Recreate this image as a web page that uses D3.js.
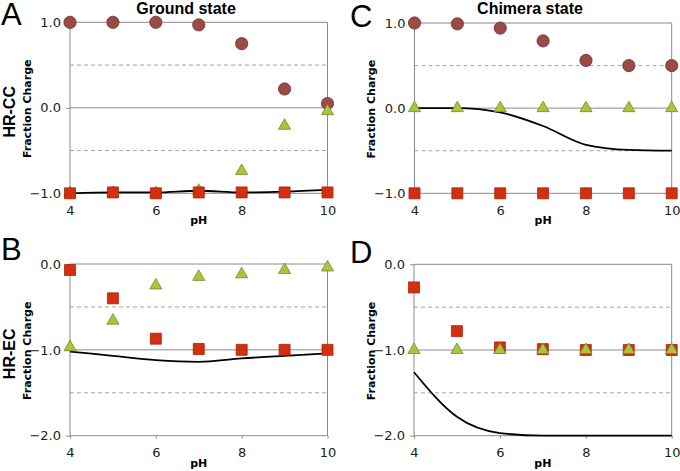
<!DOCTYPE html>
<html>
<head>
<meta charset="utf-8">
<script src="https://cdn.jsdelivr.net/npm/d3@7"></script>
<style>
  body { margin: 0; background: #fff; }
  svg { display: block; }
  .tick text { font-family: "DejaVu Sans", Verdana, sans-serif; font-size: 13px; fill: #222; }
</style>
</head>
<body>
<div id="chart"></div>
<script>
// Chart data
var pH = [4, 5, 6, 7, 8, 9, 10];

// A - HR-CC ground state
var aCircles   = [1.0, 1.0, 1.0, 0.97, 0.75, 0.22, 0.05];
var aTriangles = [-1.0, -1.0, -1.0, -0.97, -0.74, -0.21, -0.04];
var aSquares   = [-1.0, -0.99, -1.0, -0.99, -0.99, -0.99, -0.99];
var aLine      = [-1.0, -0.99, -0.99, -0.97, -0.99, -0.98, -0.96];

// B - HR-EC ground state
var bTriangles = [-0.97, -0.66, -0.25, -0.15, -0.12, -0.07, -0.04];
var bSquares   = [-0.07, -0.40, -0.87, -0.99, -1.0, -1.0, -1.0];
var bLine      = [-1.02, -1.07, -1.12, -1.14, -1.10, -1.07, -1.04];

// C - HR-CC chimera state
var cCircles   = [1.0, 0.99, 0.94, 0.79, 0.56, 0.50, 0.50];
var cTriangles = [0, 0, 0, 0, 0, 0, 0];
var cSquares   = [-1, -1, -1, -1, -1, -1, -1];
var cLine      = [0, 0, -0.05, -0.21, -0.43, -0.49, -0.50];

// D - HR-EC chimera state
var dTriangles = [-1, -1, -1, -1, -1, -1, -1];
var dSquares   = [-0.27, -0.78, -0.97, -0.99, -1.0, -1.0, -1.0];
var dLine      = [-1.26, -1.78, -1.97, -2.0, -2.0, -2.0, -2.0];

var xTicks = [4, 6, 8, 10];
var yTicksTop = [1, 0, -1];
var yTicksBottom = [0, -1, -2];
var dashTop = [0.5, -0.5];
var dashBottom = [-0.5, -1.5];

var svgWidth = 680;
var svgHeight = 471;

var svg = d3.select("#chart")
  .append("svg")
  .attr("width", svgWidth)
  .attr("height", svgHeight);

var colors = {
  circle: { fill: "#9b4a47", stroke: "#6b2f2c" },
  square: { fill: "#d42f10", stroke: "#a8230c" },
  triangle: { fill: "#a9c53c", stroke: "#76882a" }
};

// panel setup (order = drawing order of marker series)
var panels = [
  { letter: "A", lx: 1, ly: 25, left: 70, right: 327.5, top: 22.3, bottom: 193.3,
    domain: [-1, 1], yTicks: yTicksTop, dashes: dashTop, row: "HR-CC",
    series: [["circle", aCircles], ["triangle", aTriangles], ["square", aSquares]], line: aLine },
  { letter: "B", lx: 1, ly: 260, left: 70, right: 327.5, top: 264, bottom: 435.7,
    domain: [-2, 0], yTicks: yTicksBottom, dashes: dashBottom, row: "HR-EC",
    series: [["triangle", bTriangles], ["square", bSquares]], line: bLine },
  { letter: "C", lx: 350, ly: 27, left: 414.5, right: 671.7, top: 23, bottom: 193.3,
    domain: [-1, 1], yTicks: yTicksTop, dashes: dashTop,
    series: [["circle", cCircles], ["triangle", cTriangles], ["square", cSquares]], line: cLine },
  { letter: "D", lx: 350, ly: 263, left: 414, right: 671.7, top: 264.3, bottom: 435.7,
    domain: [-2, 0], yTicks: yTicksBottom, dashes: dashBottom,
    series: [["square", dSquares], ["triangle", dTriangles]], line: dLine }
];

var symbolType = { circle: d3.symbolCircle, square: d3.symbolSquare, triangle: d3.symbolTriangle };
var symbolSize = { circle: 118, square: 121, triangle: 64 };

panels.forEach(function(p) {
  var x = d3.scaleLinear().domain([4, 10]).range([p.left, p.right]);
  var y = d3.scaleLinear().domain(p.domain).range([p.bottom, p.top]);
  var g = svg.append("g");

  // dashed half gridlines
  g.selectAll(".dash")
    .data(p.dashes)
    .enter()
    .append("line")
    .attr("x1", p.left).attr("x2", p.right)
    .attr("y1", d => y(d)).attr("y2", d => y(d))
    .attr("stroke", "#a6a6a6")
    .attr("stroke-dasharray", "4,3")
    .attr("stroke-width", 1);

  // solid gridlines
  g.selectAll(".grid")
    .data(p.yTicks)
    .enter()
    .append("line")
    .attr("x1", p.left).attr("x2", p.right)
    .attr("y1", d => y(d)).attr("y2", d => y(d))
    .attr("stroke", "#8a8a8a")
    .attr("stroke-width", 1);

  // left / right frame
  g.selectAll(".frame")
    .data([4, 10])
    .enter()
    .append("line")
    .attr("x1", d => x(d)).attr("x2", d => x(d))
    .attr("y1", p.top).attr("y2", p.bottom)
    .attr("stroke", "#8a8a8a")
    .attr("stroke-width", 1);

  // axes
  var leftAxis = d3.axisLeft(y).tickValues(p.yTicks).tickFormat(d3.format(".1f")).tickSize(4).tickPadding(5);
  g.append("g")
    .attr("transform", `translate(${p.left}, 0)`)
    .call(leftAxis)
    .call(a => a.select(".domain").remove())
    .call(a => a.selectAll(".tick line").attr("stroke", "#8a8a8a"));

  var bottomAxis = d3.axisBottom(x).tickValues(xTicks).tickFormat(d3.format("d")).tickSize(3).tickPadding(9);
  g.append("g")
    .attr("transform", `translate(0, ${p.bottom})`)
    .call(bottomAxis)
    .call(a => a.select(".domain").remove())
    .call(a => a.selectAll(".tick line").attr("stroke", "#8a8a8a"));

  // black curve
  var line = d3.line()
    .x((d, i) => x(pH[i]))
    .y(d => y(d))
    .curve(d3.curveMonotoneX);

  g.append("path")
    .datum(p.line)
    .attr("d", line)
    .attr("fill", "none")
    .attr("stroke", "#000")
    .attr("stroke-width", 1.8);

  // marker series
  p.series.forEach(function(s) {
    var kind = s[0];
    g.selectAll(".m-" + kind)
      .data(s[1])
      .enter()
      .append("path")
      .attr("d", d3.symbol().type(symbolType[kind]).size(symbolSize[kind]))
      .attr("transform", (d, i) => `translate(${x(pH[i])}, ${y(d)})`)
      .attr("fill", colors[kind].fill)
      .attr("stroke", colors[kind].stroke)
      .attr("stroke-width", 0.8);
  });

  // axis labels
  g.append("text")
    .attr("x", (p.left + p.right) / 2)
    .attr("y", p.bottom + 31)
    .attr("text-anchor", "middle")
    .style("font-family", "DejaVu Sans, Verdana, sans-serif")
    .style("font-size", "11px")
    .style("font-weight", "bold")
    .text("pH");

  g.append("text")
    .attr("transform", `translate(${p.left - 43}, ${(p.top + p.bottom) / 2 + 1}) rotate(-90)`)
    .attr("text-anchor", "middle")
    .attr("dy", "0.35em")
    .style("font-family", "DejaVu Sans, Verdana, sans-serif")
    .style("font-size", "11px")
    .style("font-weight", "bold")
    .text("Fraction Charge");

  if (p.row) {
    g.append("text")
      .attr("transform", `translate(9.5, ${(p.top + p.bottom) / 2 + 4}) rotate(-90)`)
      .attr("text-anchor", "middle")
      .attr("dy", "0.35em")
      .style("font-family", "Liberation Sans, Arial, sans-serif")
      .style("font-size", "16px")
      .style("font-weight", "bold")
      .text(p.row);
  }

  // panel letter
  svg.append("text")
    .attr("x", p.lx)
    .attr("y", p.ly)
    .style("font-family", "Liberation Sans, Arial, sans-serif")
    .style("font-size", "31px")
    .text(p.letter);
});

// column titles
svg.append("text")
  .attr("x", 186).attr("y", 14)
  .attr("text-anchor", "middle")
  .style("font-family", "Liberation Sans, Arial, sans-serif")
  .style("font-size", "16px")
  .style("font-weight", "bold")
  .text("Ground state");

svg.append("text")
  .attr("x", 530).attr("y", 14)
  .attr("text-anchor", "middle")
  .style("font-family", "Liberation Sans, Arial, sans-serif")
  .style("font-size", "16px")
  .style("font-weight", "bold")
  .text("Chimera state");
</script>
</body>
</html>
